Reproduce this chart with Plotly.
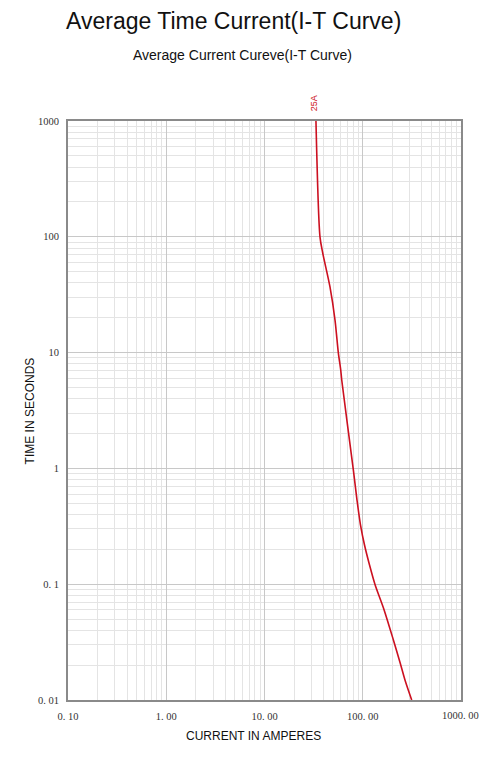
import math
import plotly.graph_objects as go

# Curve data
current_amps = [33.4, 36.7, 39.1, 46.4, 52.2, 56.4, 59.7, 61.1, 80.2, 87.4, 94.9, 104.2, 117.2, 133, 165, 205, 240, 269, 315]
time_seconds = [1000, 100, 72.8, 36.9, 19.1, 10, 7.07, 5.8, 0.97, 0.533, 0.324, 0.218, 0.1466, 0.1, 0.06, 0.033, 0.021, 0.0149, 0.01]
curve_label = "25A"

x_tick_vals = [0.1, 1, 10, 100, 1000]
x_tick_text = ["0. 10", "1. 00", "10. 00", "100. 00", "1000. 00"]
y_tick_vals = [0.01, 0.1, 1, 10, 100, 1000]
y_tick_text = ["0. 01", "0. 1", "1", "10", "100", "1000"]

x_minor = [m * 10 ** e for e in range(-1, 3) for m in range(2, 10)]
y_minor = [m * 10 ** e for e in range(-2, 3) for m in range(2, 10)]

fig = go.Figure()
fig.add_trace(go.Scatter(
    x=current_amps, y=time_seconds, mode="lines",
    line=dict(color="#cc1020", width=1.6, shape="spline", smoothing=0.8),
    showlegend=False, hoverinfo="x+y",
))

tick_font = dict(family="Liberation Serif", size=10.5, color="#333333")

# last x tick label drawn as annotation so it is not hidden at the page edge
x_text_axis = x_tick_text[:-1] + [""]

fig.update_layout(
    width=471, height=746,
    margin=dict(l=60, r=18, t=113, b=54),
    paper_bgcolor="white", plot_bgcolor="white",
    showlegend=False,
    xaxis=dict(
        type="log", range=[-1, 3],
        tickvals=x_tick_vals, ticktext=x_text_axis, tickfont=tick_font,
        showgrid=True, gridcolor="#c8c8c8", gridwidth=1,
        minor=dict(tickvals=x_minor, showgrid=True, gridcolor="#e4e4e4", gridwidth=1, ticks=""),
        showline=True, linecolor="#8a8a8a", linewidth=2, mirror=True,
        ticks="", zeroline=False, ticklabelstandoff=5,
    ),
    yaxis=dict(
        type="log", range=[-2, 3],
        tickvals=y_tick_vals, ticktext=y_tick_text, tickfont=tick_font,
        showgrid=True, gridcolor="#c8c8c8", gridwidth=1,
        minor=dict(tickvals=y_minor, showgrid=True, gridcolor="#e4e4e4", gridwidth=1, ticks=""),
        showline=True, linecolor="#8a8a8a", linewidth=2, mirror=True,
        ticks="", zeroline=False, ticklabelstandoff=5,
    ),
    annotations=[
        dict(text="Average Time Current(I-T Curve)", xref="paper", yref="paper",
             x=0.42, y=1.172, showarrow=False, xanchor="center", yanchor="middle",
             font=dict(family="Liberation Sans", size=23, color="#111111")),
        dict(text="Average Current Cureve(I-T Curve)", xref="paper", yref="paper",
             x=0.445, y=1.114, showarrow=False, xanchor="center", yanchor="middle",
             font=dict(family="Liberation Sans", size=14, color="#111111")),
        dict(text="CURRENT IN AMPERES", xref="paper", yref="paper",
             x=0.473, y=-0.062, showarrow=False, xanchor="center", yanchor="middle",
             font=dict(family="Liberation Sans", size=12, color="#111111")),
        dict(text="TIME IN SECONDS", xref="paper", yref="paper",
             x=-0.097, y=0.5, showarrow=False, xanchor="center", yanchor="middle",
             textangle=-90,
             font=dict(family="Liberation Sans", size=12, color="#111111")),
        dict(text=curve_label, xref="x", yref="paper",
             x=1.505, y=1.031, showarrow=False, xanchor="center", yanchor="middle",
             textangle=-90,
             font=dict(family="Liberation Sans", size=9, color="#cc1020")),
        dict(text=x_tick_text[-1], xref="x", yref="paper",
             x=math.log10(x_tick_vals[-1]), y=-0.026, xshift=-1,
             showarrow=False, xanchor="center", yanchor="middle",
             font=tick_font),
    ],
)

fig.write_html("out.html")
